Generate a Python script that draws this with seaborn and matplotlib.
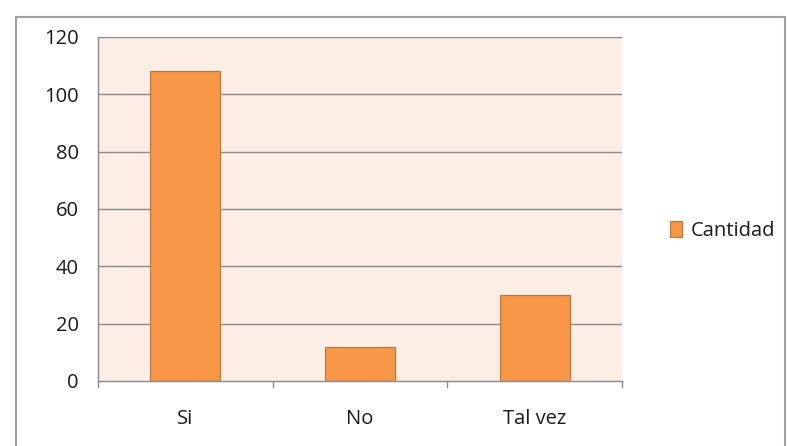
import matplotlib
matplotlib.use("Agg")
import matplotlib.pyplot as plt
import matplotlib.patches as mpatches
import seaborn as sns
import pandas as pd

categories = ["Si", "No", "Tal vez"]
cantidad = [108, 12, 30]
yticks = [0, 20, 40, 60, 80, 100, 120]

df = pd.DataFrame({"Respuesta": categories, "Cantidad": cantidad})

sns.set_theme(style="white")
plt.rcParams['font.family'] = ['Open Sans', 'DejaVu Sans']

fig = plt.figure(figsize=(7.87, 4.46), dpi=100)
ax = fig.add_axes([98/787, 1-381/446, (622-98)/787, (381-37)/446])

ax.set_facecolor("#FCEDE5")
sns.barplot(data=df, x="Respuesta", y="Cantidad", ax=ax, color="#F79646",
            saturation=1, width=0.4, edgecolor="#B9753F", linewidth=0.8,
            zorder=3)

fs = 14.5
ax.set_ylim(0, 120)
ax.set_xlim(-0.5, 2.5)
ax.set_yticks(yticks)
ax.set_yticklabels([str(v) for v in yticks], fontsize=fs, color="#1a1a1a")
ax.set_xticks([0, 1, 2])
ax.set_xticklabels(categories, fontsize=fs, color="#1a1a1a")
ax.set_xlabel("")
ax.set_ylabel("")

for v in yticks[1:]:
    ax.axhline(v, color="#8A8A8A", linewidth=1, zorder=1)

for s in ["top", "right"]:
    ax.spines[s].set_visible(False)
for s in ["left", "bottom"]:
    ax.spines[s].set_color("#8A8A8A")
    ax.spines[s].set_linewidth(1)
    ax.spines[s].set_zorder(4)

ax.tick_params(axis="y", direction="out", length=6, color="#8A8A8A", width=1, pad=8)
ax.tick_params(axis="x", length=0, pad=20)
for xb in [-0.5, 0.5, 1.5, 2.5]:
    ax.plot([xb, xb], [0, -2.2], color="#8A8A8A", linewidth=1, clip_on=False, zorder=4)

handle = mpatches.Patch(facecolor="#F79646", edgecolor="#B9753F", linewidth=0.8)
leg = fig.legend([handle], ["Cantidad"], loc="center left",
                 bbox_to_anchor=(652/787, 1-231/446), frameon=False,
                 fontsize=fs, handlelength=0.6, handleheight=0.8,
                 handletextpad=0.4)
for t in leg.get_texts():
    t.set_color("#1a1a1a")

border = mpatches.Rectangle((16/787, -0.05), (785-16)/787, 1.05 - 17/446,
                            transform=fig.transFigure, fill=False,
                            edgecolor="#A0A0A0", linewidth=1.5)
fig.patches.append(border)

fig.savefig("out.png", dpi=100)
